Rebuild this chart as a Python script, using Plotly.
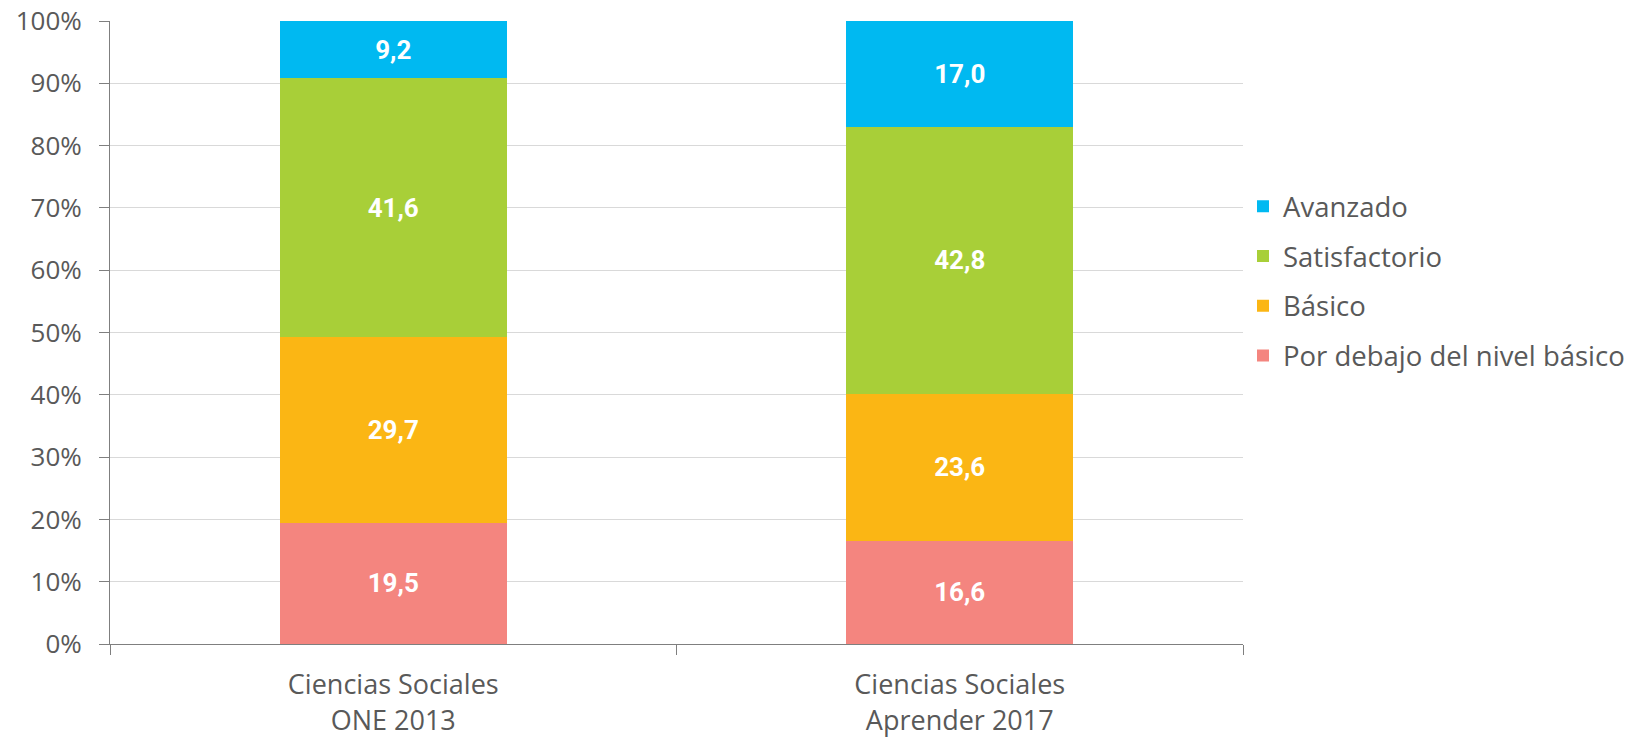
import plotly.graph_objects as go

# Datos (porcentajes por nivel de desempeño)
categories = ["Ciencias Sociales<br>ONE 2013", "Ciencias Sociales<br>Aprender 2017"]
niveles = ["Por debajo del nivel básico", "Básico", "Satisfactorio", "Avanzado"]
por_debajo = [19.5, 16.6]
basico = [29.7, 23.6]
satisfactorio = [41.6, 42.8]
avanzado = [9.2, 17.0]
y_ticks = [0, 10, 20, 30, 40, 50, 60, 70, 80, 90, 100]
y_tick_text = [f"{v}%" for v in y_ticks]

series = [por_debajo, basico, satisfactorio, avanzado]
colors = ["#F4857F", "#FBB614", "#A8CF38", "#00B9F1"]

GRAY = "#595959"
TXT_FONT = "Open Sans, DejaVu Sans, sans-serif"

fig = go.Figure()
for i, (name, vals, col) in enumerate(zip(niveles, series, colors)):
    fig.add_trace(go.Bar(
        x=categories, y=vals, name=name,
        marker=dict(color=col, line=dict(width=0)),
        texttemplate="%{y:.1f}",
        textposition="inside",
        insidetextanchor="middle",
        textangle=0,
        textfont=dict(color="white", size=26, family="Roboto, sans-serif", weight="bold"),
        legendgroup=f"g{i}",
        legendrank=len(niveles) - i,
    ))

fig.update_layout(
    barmode="stack",
    bargap=0.6,
    separators=", ",
    width=1631, height=738,
    margin=dict(l=110, r=388, t=21, b=94, autoexpand=False),
    plot_bgcolor="white", paper_bgcolor="white",
    font=dict(family=TXT_FONT, color=GRAY, size=26),
    legend=dict(
        traceorder="grouped",
        x=1.0, xanchor="left",
        y=0.583, yanchor="middle",
        font=dict(size=27.5, color=GRAY),
        tracegroupgap=11,
        itemwidth=30,
    ),
    showlegend=True,
)

fig.update_yaxes(
    range=[0, 100],
    tickmode="array",
    tickvals=y_ticks,
    ticktext=y_tick_text,
    showgrid=True, gridcolor="#D9D9D9", gridwidth=1,
    showline=True, linecolor="#7F7F7F", linewidth=1,
    ticks="outside", ticklen=10, tickcolor="#7F7F7F",
    ticklabelstandoff=12,
    tickfont=dict(size=26, color=GRAY),
    zeroline=False,
    automargin=False,
)
fig.update_xaxes(
    showline=True, linecolor="#7F7F7F", linewidth=1,
    ticks="outside", ticklen=10, tickcolor="#7F7F7F",
    tickson="boundaries",
    ticklabelstandoff=17,
    tickfont=dict(size=27, color=GRAY),
    automargin=False,
)

# quitar el margen por defecto del body para que la figura ocupe la ventana
fig.write_html("out.html", config={"displayModeBar": False},
               post_script="document.body.style.margin='0';")
